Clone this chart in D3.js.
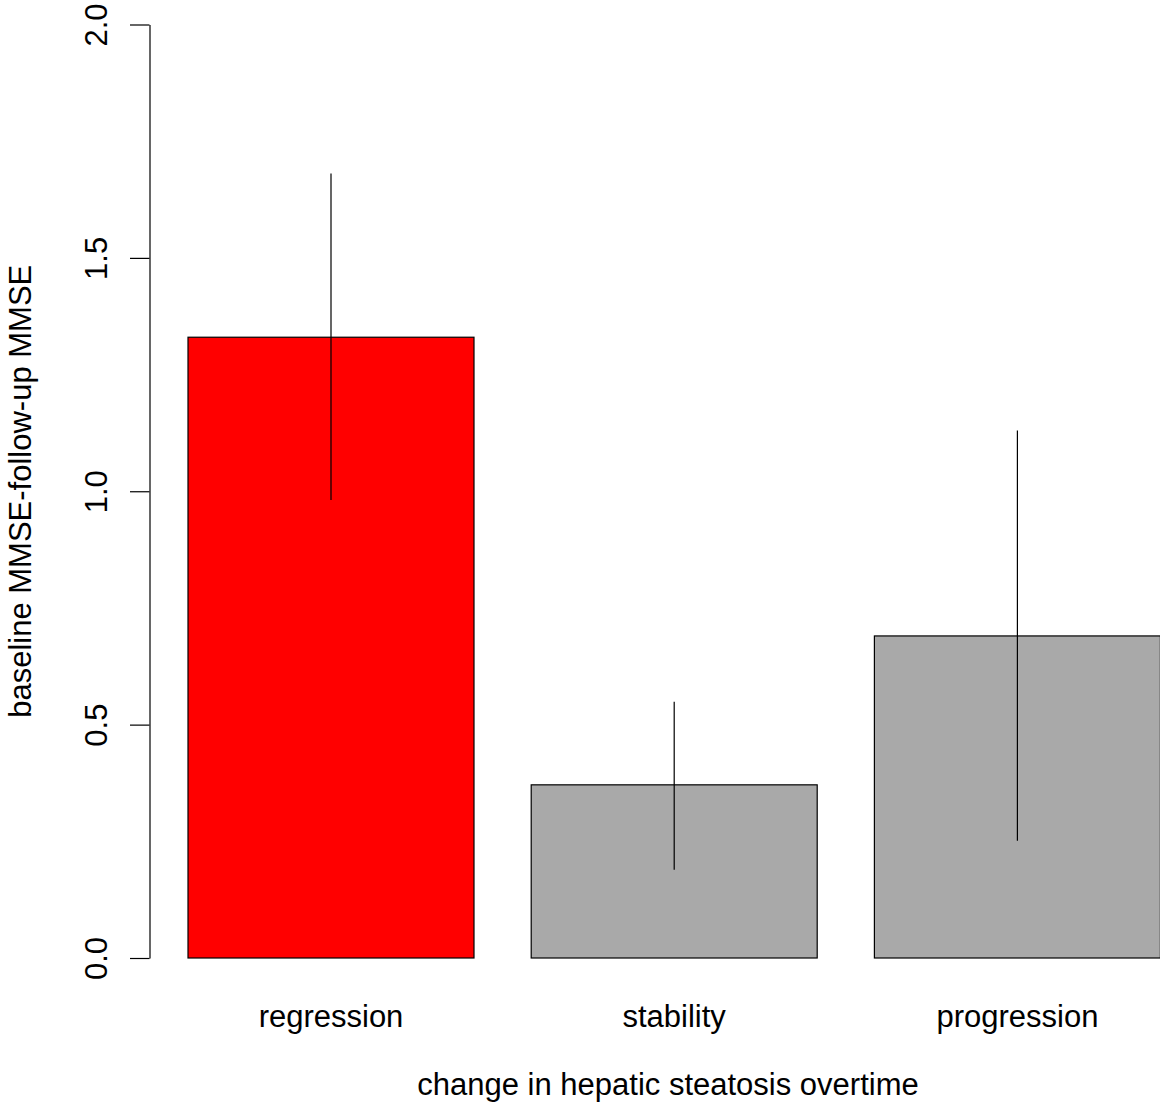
<!DOCTYPE html>
<html>
<head>
<meta charset="utf-8">
<script src="https://cdn.jsdelivr.net/npm/d3@7"></script>
<style>
  body { margin: 0; background: #fff; }
  svg { display: block; font-family: "Liberation Sans", Arial, sans-serif; }
</style>
</head>
<body>
<div id="chart"></div>
<script>
// data
const categories = ["regression", "stability", "progression"];
const means = [1.33, 0.371, 0.690];
const lower = [0.981, 0.189, 0.251];
const upper = [1.681, 0.549, 1.130];
const barColors = ["#ff0000", "#a9a9a9", "#a9a9a9"];
const yTicks = [0, 0.5, 1.0, 1.5, 2.0];

const width = 1160, height = 1113;

const svg = d3.select("#chart")
  .append("svg")
  .attr("width", width)
  .attr("height", height);

// barplot-style user coordinates: width 1, space 0.2
const x = d3.scaleLinear().domain([0.2, 3.6]).range([188, 1160.4]);
const y = d3.scaleLinear().domain([0, 2]).range([958, 24.5]);

const data = categories.map((c, i) => ({
  cat: c, mean: means[i], lo: lower[i], hi: upper[i], col: barColors[i],
  left: 0.2 + 1.2 * i, mid: 0.7 + 1.2 * i
}));

// bars
svg.selectAll(".bar")
  .data(data)
  .enter()
  .append("rect")
  .attr("class", "bar")
  .attr("x", d => x(d.left))
  .attr("y", d => y(d.mean))
  .attr("width", d => x(d.left + 1) - x(d.left))
  .attr("height", d => y(0) - y(d.mean))
  .attr("fill", d => d.col)
  .attr("stroke", "#000")
  .attr("stroke-width", 1.2);

// error lines
svg.selectAll(".err")
  .data(data)
  .enter()
  .append("line")
  .attr("class", "err")
  .attr("x1", d => x(d.mid))
  .attr("x2", d => x(d.mid))
  .attr("y1", d => y(d.lo))
  .attr("y2", d => y(d.hi))
  .attr("stroke", "#000")
  .attr("stroke-width", 1.2);

// y axis
const yAxis = d3.axisLeft(y)
  .tickValues(yTicks)
  .tickFormat(d3.format(".1f"))
  .tickSize(19.5)
  .tickSizeOuter(0);

const gy = svg.append("g")
  .attr("transform", "translate(149.5,0)")
  .call(yAxis);

gy.select(".domain").attr("stroke", "#000").attr("stroke-width", 1.2);
gy.selectAll(".tick line").attr("stroke", "#000").attr("stroke-width", 1.2);
gy.selectAll(".tick text")
  .attr("transform", "rotate(-90)")
  .attr("x", 0)
  .attr("y", -42.5)
  .attr("dy", null)
  .attr("text-anchor", "middle")
  .attr("fill", "#000")
  .style("font-size", "31px")
  .style("font-family", "'Liberation Sans', Arial, sans-serif");

// category labels
svg.selectAll(".cat")
  .data(data)
  .enter()
  .append("text")
  .attr("class", "cat")
  .attr("x", d => x(d.mid))
  .attr("y", 1027)
  .attr("text-anchor", "middle")
  .style("font-size", "31px")
  .text(d => d.cat);

// axis titles
svg.append("text")
  .attr("x", 668)
  .attr("y", 1095)
  .attr("text-anchor", "middle")
  .style("font-size", "31px")
  .text("change in hepatic steatosis overtime");

svg.append("text")
  .attr("transform", `translate(31,${(y(0) + y(2)) / 2}) rotate(-90)`)
  .attr("text-anchor", "middle")
  .style("font-size", "31px")
  .text("baseline MMSE-follow-up MMSE");
</script>
</body>
</html>
